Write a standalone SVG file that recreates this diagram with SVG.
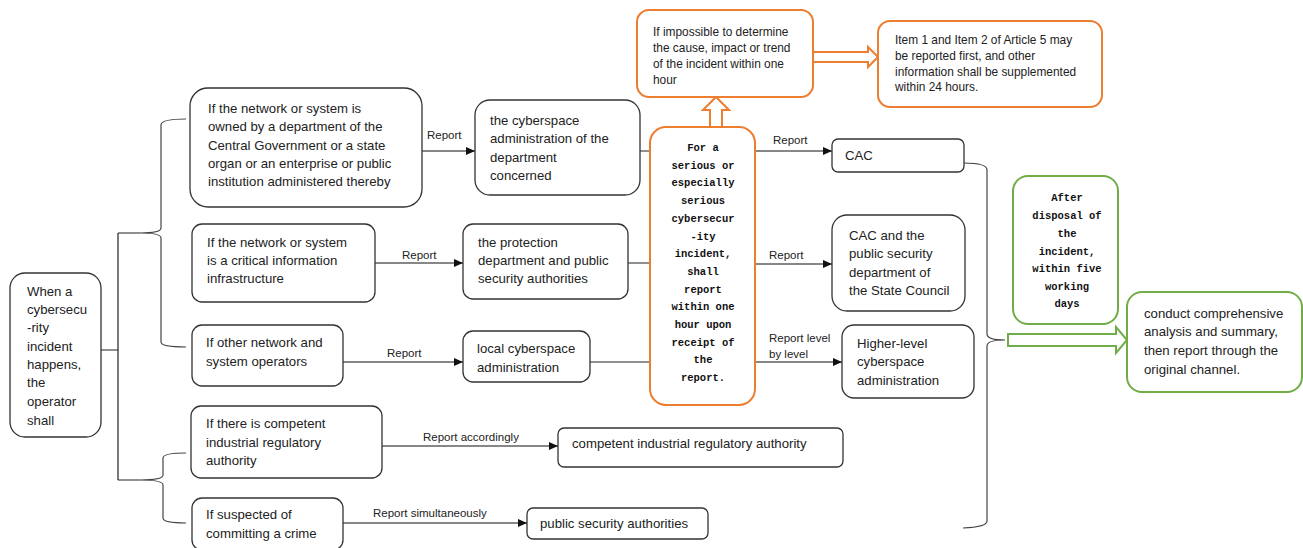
<svg xmlns="http://www.w3.org/2000/svg" width="1303" height="548" viewBox="0 0 1303 548">
<defs>
<style>
.box{fill:#fff;stroke:#333;stroke-width:1.3}
.ob{fill:#fff;stroke:#ED7D31;stroke-width:2}
.gb{fill:#fff;stroke:#70AD47;stroke-width:2}
.t{font-family:"Liberation Sans",Arial,sans-serif;font-size:13.2px;fill:#222}
.ts{font-family:"Liberation Sans",Arial,sans-serif;font-size:11.9px;fill:#222}
.lb{font-family:"Liberation Sans",Arial,sans-serif;font-size:11.5px;fill:#222}
.m{font-family:"Liberation Mono","Courier New",monospace;font-size:10.5px;font-weight:bold;fill:#111;text-anchor:middle}
.ln{fill:none;stroke:#222;stroke-width:1.2}
.br{fill:none;stroke:#444;stroke-width:1.2}
.ar{fill:none;stroke:#111;stroke-width:1.2;marker-end:url(#ah)}
</style>
<marker id="ah" markerWidth="9" markerHeight="8" refX="9" refY="4" orient="auto" markerUnits="userSpaceOnUse">
<path d="M0,0 L9,4 L0,8 Z" fill="#111"/>
</marker>
</defs>

<g id="connectors">
<path class="ln" d="M101,350 H118 M118,233 V480 M118,233 H140 M118,480 H140"/>
<path class="br" d="M186,119 Q161,119 161,125 L161,228 Q161,233 140,233 Q161,233 161,238 L161,342 Q161,347 186,347"/>
<path class="br" d="M186,453 Q163,453 163,458 L163,475 Q163,480 140,480 Q163,480 163,485 L163,518 Q163,523 186,523"/>
<path class="ar" d="M422,151 H475"/>
<path class="ar" d="M375,263 H463"/>
<path class="ar" d="M343,362 H463"/>
<path class="ar" d="M382,446 H558"/>
<path class="ar" d="M343,523 H527"/>
<path class="ln" d="M640,151 H650 M628,263 H650 M590,362 H650"/>
<path class="ar" d="M755,151 H832"/>
<path class="ar" d="M755,264 H832"/>
<path class="ar" d="M755,362 H842"/>
<path class="br" d="M964,163 Q987,163 987,170 L987,334 Q987,340 1005,340 Q987,340 987,346 L987,521 Q987,527 963,528"/>
<polygon points="710,127 710,110 703,110 716,97 729,110 722,110 722,127" fill="#fff" stroke="#ED7D31" stroke-width="2"/>
<polygon points="813,52 868,52 868,47 878,57 868,67 868,62 813,62" fill="#fff" stroke="#ED7D31" stroke-width="2"/>
<polygon points="1008,334 1116,334 1116,327 1127,340 1116,353 1116,346 1008,346" fill="#fff" stroke="#70AD47" stroke-width="2"/>
<text class="lb" x="427" y="139">Report</text>
<text class="lb" x="402" y="259">Report</text>
<text class="lb" x="387" y="357">Report</text>
<text class="lb" x="423" y="441">Report accordingly</text>
<text class="lb" x="373" y="517">Report simultaneously</text>
<text class="lb" x="773" y="144">Report</text>
<text class="lb" x="769" y="259">Report</text>
<text class="lb" x="769" y="342">Report level</text>
<text class="lb" x="769" y="358">by level</text>
</g>

<g id="start">
<rect class="box" x="10" y="273" width="91" height="164" rx="15"/>
<text class="t"><tspan x="27" y="296">When a</tspan><tspan x="27" y="314">cybersecu</tspan><tspan x="27" y="332">-rity</tspan><tspan x="27" y="351">incident</tspan><tspan x="27" y="369">happens,</tspan><tspan x="27" y="387">the</tspan><tspan x="27" y="406">operator</tspan><tspan x="27" y="425">shall</tspan></text>
</g>

<g id="a1">
<rect class="box" x="190" y="88" width="232" height="119" rx="18"/>
<text class="t"><tspan x="208" y="113">If the network or system is</tspan><tspan x="208" y="131">owned by a department of the</tspan><tspan x="208" y="150">Central Government or a state</tspan><tspan x="208" y="168">organ or an enterprise or public</tspan><tspan x="208" y="186">institution administered thereby</tspan></text>
</g>
<g id="b1">
<rect class="box" x="475" y="100" width="165" height="95" rx="15"/>
<text class="t"><tspan x="490" y="125">the cyberspace</tspan><tspan x="490" y="143">administration of the</tspan><tspan x="490" y="162">department</tspan><tspan x="490" y="180">concerned</tspan></text>
</g>

<g id="a2">
<rect class="box" x="192" y="224" width="183" height="78" rx="10"/>
<text class="t"><tspan x="207" y="247">If the network or system</tspan><tspan x="207" y="265">is a critical information</tspan><tspan x="207" y="283">infrastructure</tspan></text>
</g>
<g id="b2">
<rect class="box" x="463" y="224" width="165" height="75" rx="10"/>
<text class="t"><tspan x="478" y="247">the protection</tspan><tspan x="478" y="265">department and public</tspan><tspan x="478" y="283">security authorities</tspan></text>
</g>

<g id="a3">
<rect class="box" x="192" y="325" width="151" height="61" rx="10"/>
<text class="t"><tspan x="206" y="347">If other network and</tspan><tspan x="206" y="366">system operators</tspan></text>
</g>
<g id="b3">
<rect class="box" x="463" y="331" width="127" height="51" rx="10"/>
<text class="t"><tspan x="477" y="353">local cyberspace</tspan><tspan x="477" y="372">administration</tspan></text>
</g>

<g id="a4">
<rect class="box" x="191" y="406" width="191" height="72" rx="10"/>
<text class="t"><tspan x="206" y="428">If there is competent</tspan><tspan x="206" y="447">industrial regulatory</tspan><tspan x="206" y="465">authority</tspan></text>
</g>
<g id="b4">
<rect class="box" x="558" y="428" width="285" height="39" rx="6"/>
<text class="t" x="572" y="448">competent industrial regulatory authority</text>
</g>

<g id="a5">
<rect class="box" x="192" y="498" width="151" height="52" rx="10"/>
<text class="t"><tspan x="206" y="519">If suspected of</tspan><tspan x="206" y="538">committing a crime</tspan></text>
</g>
<g id="b5">
<rect class="box" x="527" y="508" width="181" height="31" rx="6"/>
<text class="t" x="540" y="528">public security authorities</text>
</g>

<g id="center">
<rect class="ob" x="650" y="127" width="105" height="278" rx="16"/>
<text class="m"><tspan x="703" y="151">For a</tspan><tspan x="703" y="169">serious or</tspan><tspan x="703" y="186">especially</tspan><tspan x="703" y="204">serious</tspan><tspan x="703" y="222">cybersecur</tspan><tspan x="703" y="240">-ity</tspan><tspan x="703" y="257">incident,</tspan><tspan x="703" y="275">shall</tspan><tspan x="703" y="293">report</tspan><tspan x="703" y="310">within one</tspan><tspan x="703" y="328">hour upon</tspan><tspan x="703" y="346">receipt of</tspan><tspan x="703" y="363">the</tspan><tspan x="703" y="381">report.</tspan></text>
</g>

<g id="o1">
<rect class="ob" x="637" y="10" width="176" height="87" rx="12"/>
<text class="ts"><tspan x="653" y="36">If impossible to determine</tspan><tspan x="653" y="52">the cause, impact or trend</tspan><tspan x="653" y="68">of the incident within one</tspan><tspan x="653" y="84">hour</tspan></text>
</g>
<g id="o2">
<rect class="ob" x="878" y="21" width="224" height="86" rx="12"/>
<text class="ts"><tspan x="895" y="44">Item 1 and Item 2 of Article 5 may</tspan><tspan x="895" y="60">be reported first, and other</tspan><tspan x="895" y="76">information shall be supplemented</tspan><tspan x="895" y="91">within 24 hours.</tspan></text>
</g>

<g id="cac">
<rect class="box" x="832" y="139" width="132" height="33" rx="6"/>
<text class="t" x="845" y="160">CAC</text>
</g>
<g id="cac2">
<rect class="box" x="832" y="215" width="133" height="96" rx="15"/>
<text class="t"><tspan x="849" y="240">CAC and the</tspan><tspan x="849" y="258">public security</tspan><tspan x="849" y="277">department of</tspan><tspan x="849" y="295">the State Council</tspan></text>
</g>
<g id="higher">
<rect class="box" x="842" y="325" width="132" height="73" rx="12"/>
<text class="t"><tspan x="857" y="348">Higher-level</tspan><tspan x="857" y="366">cyberspace</tspan><tspan x="857" y="385">administration</tspan></text>
</g>

<g id="g1">
<rect class="gb" x="1013" y="176" width="105" height="148" rx="15"/>
<text class="m"><tspan x="1067" y="201">After</tspan><tspan x="1067" y="219">disposal of</tspan><tspan x="1067" y="237">the</tspan><tspan x="1067" y="255">incident,</tspan><tspan x="1067" y="272">within five</tspan><tspan x="1067" y="290">working</tspan><tspan x="1067" y="307">days</tspan></text>
</g>
<g id="g2">
<rect class="gb" x="1127" y="292" width="175" height="100" rx="15"/>
<text class="t"><tspan x="1144" y="318">conduct comprehensive</tspan><tspan x="1144" y="336">analysis and summary,</tspan><tspan x="1144" y="355">then report through the</tspan><tspan x="1144" y="374">original channel.</tspan></text>
</g>
</svg>
